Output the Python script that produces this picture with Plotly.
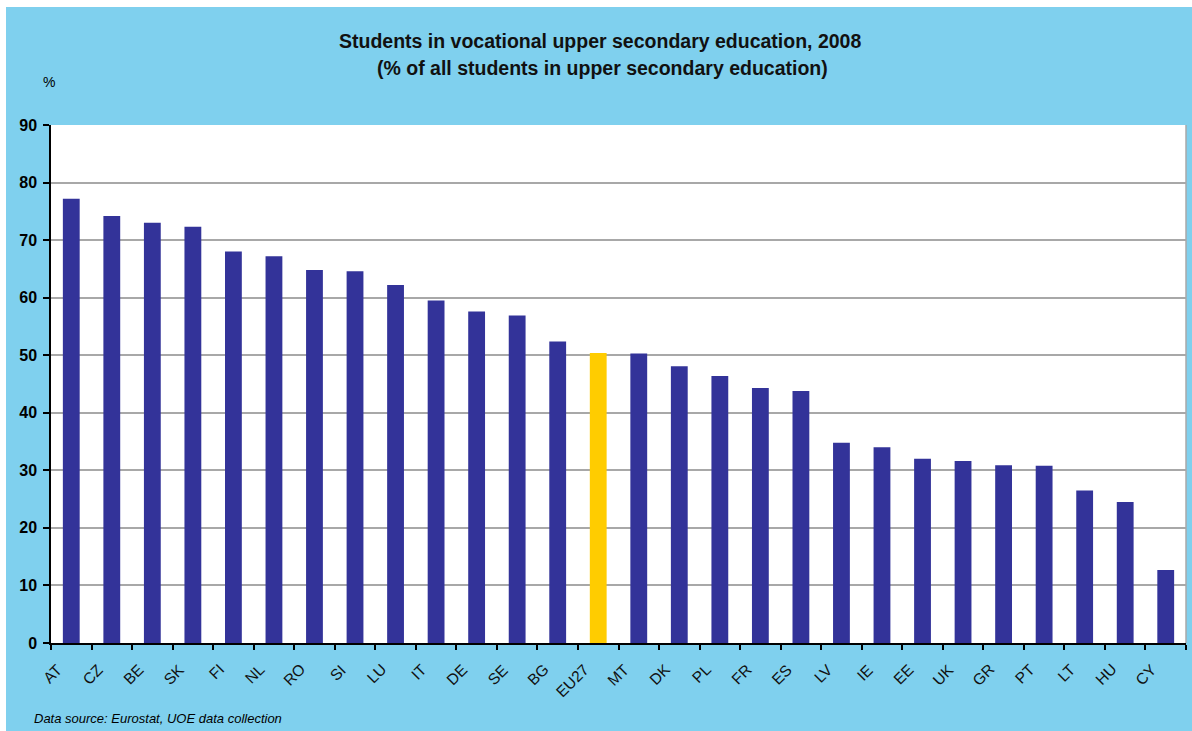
import plotly.graph_objects as go

countries = ["AT", "CZ", "BE", "SK", "FI", "NL", "RO", "SI", "LU", "IT", "DE", "SE", "BG",
             "EU27", "MT", "DK", "PL", "FR", "ES", "LV", "IE", "EE", "UK", "GR", "PT", "LT", "HU", "CY"]
values = [77.2, 74.2, 73.0, 72.3, 68.0, 67.2, 64.8, 64.6, 62.2, 59.5, 57.6, 56.9, 52.4,
          50.4, 50.3, 48.1, 46.4, 44.3, 43.8, 34.8, 34.0, 32.0, 31.6, 30.9, 30.8, 26.5, 24.5, 12.7]
highlight = "EU27"

BLUE_BG = "#7FD0EE"
BAR = "#333399"
HL = "#FFCC00"
colors = [HL if c == highlight else BAR for c in countries]

fig = go.Figure(go.Bar(x=countries, y=values, marker=dict(color=colors, line=dict(width=0))))

W, H = 1192, 731
L, R, T, B = 51, 6, 125, 88
PW, PH = W - L - R, H - T - B

def px(x):
    return (x - L) / PW

def py(y):
    return (H - B - y) / PH

fig.update_layout(
    width=W, height=H,
    margin=dict(l=L, r=R, t=T, b=B),
    paper_bgcolor=BLUE_BG, plot_bgcolor="white",
    bargap=0.585, showlegend=False,
    font=dict(family="Liberation Sans, Arial", color="black"),
)
fig.update_xaxes(
    range=[-0.5, len(countries) - 0.5], autorange=False,
    showline=True, linecolor="black", linewidth=1.5,
    ticks="outside", tickson="boundaries", ticklen=5, tickcolor="black", tickwidth=1.5,
    showticklabels=False, showgrid=False,
)
fig.update_yaxes(
    range=[0, 90], dtick=10, showline=True, linecolor="black", linewidth=1.5,
    ticks="outside", ticklen=6, tickcolor="black", tickwidth=1.5,
    showgrid=True, gridcolor="#A8A8A8", gridwidth=1.5,
    tickfont=dict(size=16, family="Liberation Sans, Arial", weight="bold"),
    ticklabelstandoff=3, zeroline=False,
)

# rotated category labels
for c in countries:
    fig.add_annotation(text=c, xref="x", yref="paper", x=c, y=py(658),
                       xanchor="right", yanchor="top", xshift=-3, textangle=-45,
                       showarrow=False,
                       font=dict(size=15.5, family="Liberation Sans, Arial", color="#111111"))

# grey right border of plot area
fig.add_shape(type="line", xref="paper", yref="paper", x0=1, x1=1, y0=0, y1=1,
              line=dict(color="#A8A8A8", width=1.5))
# white margins at top and left of the picture
fig.add_shape(type="rect", xref="paper", yref="paper", x0=px(0), x1=px(W),
              y0=py(7), y1=py(0), fillcolor="white", line=dict(width=0), layer="below")
fig.add_shape(type="rect", xref="paper", yref="paper", x0=px(0), x1=px(6),
              y0=py(H), y1=py(0), fillcolor="white", line=dict(width=0), layer="below")

fig.add_annotation(text="<b>Students in vocational upper secondary education, 2008</b>",
                   xref="paper", yref="paper", x=px(600), y=py(41),
                   xanchor="center", yanchor="middle", showarrow=False,
                   font=dict(size=19.5, family="Liberation Sans, Arial", color="#111111"))
fig.add_annotation(text="<b>(% of all students in upper secondary education)</b>",
                   xref="paper", yref="paper", x=px(602), y=py(68),
                   xanchor="center", yanchor="middle", showarrow=False,
                   font=dict(size=19.5, family="Liberation Sans, Arial", color="#111111"))
fig.add_annotation(text="%", xref="paper", yref="paper", x=px(48.5), y=py(82),
                   xanchor="center", yanchor="middle", showarrow=False,
                   font=dict(size=14, family="Liberation Sans, Arial"))
fig.add_annotation(text="<i>Data source: Eurostat, UOE data collection</i>",
                   xref="paper", yref="paper", x=px(32), y=py(718),
                   xanchor="left", yanchor="middle", showarrow=False,
                   font=dict(size=13, family="Liberation Sans, Arial"))

fig.write_html("out.html", config={"displayModeBar": False},
               post_script="document.body.style.margin='0';")
